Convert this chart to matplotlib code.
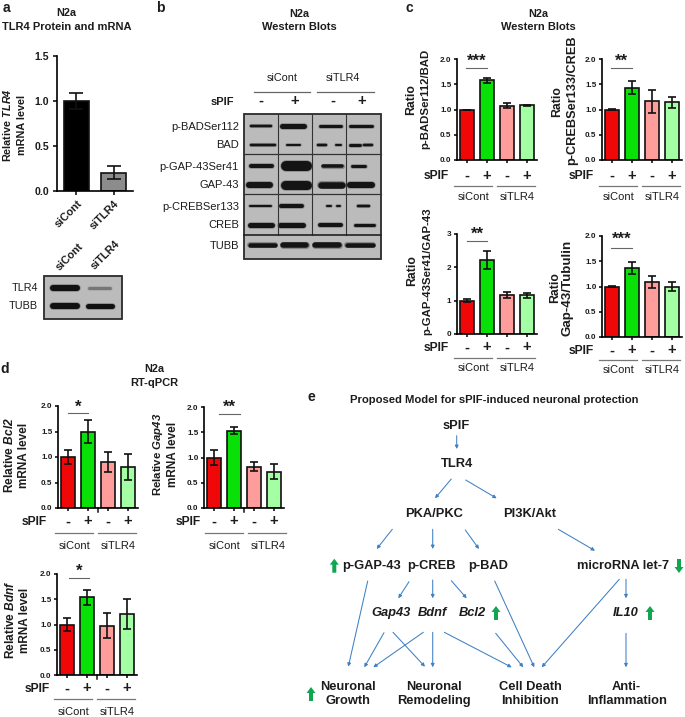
import matplotlib
matplotlib.use("Agg")
import matplotlib.pyplot as plt
from matplotlib.patches import FancyArrow, Rectangle

plt.rcParams["font.family"] = ["Liberation Sans", "DejaVu Sans"]
plt.rcParams["mathtext.fontset"] = "custom"
plt.rcParams["mathtext.bf"] = "Liberation Sans:bold"
plt.rcParams["mathtext.bfit"] = "Liberation Sans:italic:bold"
plt.rcParams["mathtext.it"] = "Liberation Sans:italic"
plt.rcParams["mathtext.rm"] = "Liberation Sans"

W, H = 685, 717
TEXT = "#1c1c1c"
BLUE = "#3f80c4"
GREEN = "#10a550"
BAR_COLORS = ["#f00808", "#08e008", "#ff9c9c", "#a4ffa4"]
SIGNS = ["-", "+", "-", "+"]

# panel a
a_groups = ["siCont", "siTLR4"]
a_means = [1.0, 0.2]
a_errs = [0.09, 0.075]

# panel c
badr_means = [1.0, 1.58, 1.07, 1.08]
badr_errs = [0.0, 0.05, 0.05, 0.01]
crebr_means = [1.0, 1.43, 1.16, 1.14]
crebr_errs = [0.01, 0.13, 0.22, 0.11]
gapr_means = [1.0, 2.23, 1.17, 1.16]
gapr_errs = [0.04, 0.27, 0.10, 0.07]
gaptub_means = [1.0, 1.36, 1.09, 1.0]
gaptub_errs = [0.01, 0.12, 0.11, 0.08]

# panel d
bcl2_means = [1.0, 1.5, 0.9, 0.8]
bcl2_errs = [0.13, 0.23, 0.2, 0.25]
gap43_means = [1.0, 1.53, 0.82, 0.72]
gap43_errs = [0.14, 0.07, 0.09, 0.15]
bdnf_means = [1.0, 1.54, 0.98, 1.21]
bdnf_errs = [0.13, 0.15, 0.25, 0.30]

# western blots, per row: lane bands as (x start, x end, thickness, colour) in pixels
blot_b_labels = ["p-BADSer112", "BAD", "p-GAP-43Ser41", "GAP-43", "p-CREBSer133", "CREB", "TUBB"]
blot_b_rows = [125.5, 144.5, 166, 184.5, 206, 224.5, 245]
blot_b_bands = [
    [(251, 271, 2.5), (282, 304, 5), (320, 341, 3), (350, 372, 3)],
    [(251, 275, 2.5), (287, 300, 2), (318, 326, 2.5), (336, 341, 2), (350, 360, 3), (364, 372, 2.5)],
    [(251, 272, 4), (286, 307, 10), (323, 342, 3.5), (352, 365, 3)],
    [(249, 270, 6), (285, 307, 9), (321, 342, 6.5), (350, 372, 6)],
    [(250, 271, 2), (281, 302, 4), (327, 331, 2), (337, 340, 2), (358, 369, 2.5)],
    [(250, 272, 5), (280, 303, 5), (320, 341, 4), (355, 374, 3)],
    [(250, 275, 4.5), (283, 306, 5.5), (315, 339, 5.5), (347, 373, 4.5)],
]
blot_a_labels = ["TLR4", "TUBB"]
blot_a_rows = [288, 306]
blot_a_bands = [
    [(53, 77, 6, "#111111"), (89, 110, 3, "#777777")],
    [(53, 77, 6, "#111111"), (88, 112, 5, "#111111")],
]

# panel e, arrows between nodes (start x, start y, end x, end y) in pixels
flow_arrows = [
    (456.7, 435.7, 456.7, 449), (451.3, 479, 435, 498.3), (465.7, 480, 496.7, 498.3),
    (392.3, 529.3, 376.7, 549), (432.7, 529.3, 432.7, 549), (465.3, 530, 479, 549),
    (558.3, 529.3, 595, 550.7), (367.7, 581, 348.3, 666.7), (409, 581.7, 398.3, 598.3),
    (432.7, 580, 432.7, 598.3), (451.3, 580.7, 466.7, 598.3), (494.7, 581, 534.3, 667.3),
    (619.3, 579.3, 541.7, 667.3), (626, 579.3, 626, 598.3), (384, 632.7, 364.3, 667.3),
    (393, 632.3, 425, 666.7), (423.3, 632.3, 373.3, 667.3), (432.7, 632.3, 432.7, 667.3),
    (444.3, 632.3, 511.7, 667.3), (495.7, 633.3, 523.3, 667.3), (626, 633.3, 626, 667.3),
]
flow_nodes = [
    ("sPIF", 456.3, 426, "normal"), ("TLR4", 456.7, 464.3, "normal"),
    ("PKA/PKC", 434.3, 514.3, "normal"), ("PI3K/Akt", 529.7, 514.3, "normal"),
    ("p-GAP-43", 371.7, 565.7, "normal"), ("p-CREB", 431, 565.7, "normal"),
    ("p-BAD", 488.3, 565.7, "normal"), ("microRNA let-7", 623, 565.7, "normal"),
    ("Gap43", 391, 613.3, "italic"), ("Bdnf", 432.3, 613.3, "italic"),
    ("Bcl2", 472.7, 613.3, "italic"), ("IL10", 625.7, 613.3, "italic"),
    ("Neuronal\nGrowth", 348.3, 694, "normal"), ("Neuronal\nRemodeling", 434, 694, "normal"),
    ("Cell Death\nInhibition", 530, 694, "normal"), ("Anti-\nInflammation", 626.7, 694, "normal"),
]
up_arrows = [(334.3, 565.7), (496, 613), (650, 613), (311, 694)]
down_arrows = [(679, 566)]

fig = plt.figure(figsize=(W / 100, H / 100), dpi=100)
ov = fig.add_axes([0, 0, 1, 1], zorder=5)
ov.set_xlim(0, W)
ov.set_ylim(H, 0)
ov.axis("off")
ov.patch.set_alpha(0)


def label(x, y, s, size=7.6, weight="bold", **kw):
    kw.setdefault("ha", "center")
    kw.setdefault("va", "center")
    kw.setdefault("color", TEXT)
    ov.text(x, y, s, fontsize=size, fontweight=weight, **kw)


def make_axes(left, right, top, bottom):
    ax = fig.add_axes([left / W, 1 - bottom / H, (right - left) / W, (bottom - top) / H])
    for side in ["top", "right"]:
        ax.spines[side].set_visible(False)
    for side in ["left", "bottom"]:
        ax.spines[side].set_linewidth(1.2)
    ax.patch.set_alpha(0)
    return ax


def bar_panel(left, top, bottom, means, errs, ymax, yticks, fmt, sig_x, sig_y, stars, star_y,
              sig_px=0, rows=(14, 24, 35), spif_dx=-21, minor=False):
    ax = make_axes(left, left + 80, top, bottom)
    xs = range(len(means))
    ax.bar(xs, means, width=0.68, color=BAR_COLORS, edgecolor="#111111", linewidth=1.2)
    ax.errorbar(xs, means, yerr=errs, fmt="none", ecolor="#111111", elinewidth=1.2, capsize=3, capthick=1.2)
    ax.set_xlim(-0.5, 3.5)
    ax.set_ylim(0, ymax)
    ax.set_yticks(yticks)
    ax.set_yticklabels([fmt % v for v in yticks], fontsize=5.9, fontweight="bold", color=TEXT)
    ax.set_xticks(list(xs))
    ax.set_xticklabels(SIGNS, fontsize=10.5, fontweight="bold", color=TEXT)
    ax.tick_params(axis="both", length=2.5, width=1.1, pad=1.5)
    ax.tick_params(axis="x", pad=rows[0] - 12)
    ax.plot(sig_x, [sig_y, sig_y], color="#666666", lw=0.8, clip_on=False)
    ax.text(sum(sig_x) / 2, star_y, stars, ha="center", va="center", fontsize=12, fontweight="bold",
            color=TEXT, clip_on=False)
    if minor:
        ax.plot([1.5, 1.5], [0, -ymax * 0.04], color="#111111", lw=1.1, clip_on=False)
    y0 = bottom
    label(left + spif_dx, y0 + rows[0], "sPIF", size=8.7)
    ov.plot([left - 3 + sig_px, left + 35 + sig_px], [y0 + rows[1]] * 2, color="#777777", lw=0.9)
    ov.plot([left + 40 + sig_px, left + 78 + sig_px], [y0 + rows[1]] * 2, color="#777777", lw=0.9)
    label(left + 17 + sig_px, y0 + rows[2], "siCont", weight="normal", size=8)
    label(left + 60 + sig_px, y0 + rows[2], "siTLR4", weight="normal", size=8)
    return ax


def draw_blot(x0, x1, y0, y1, rows, bands):
    ov.add_patch(Rectangle((x0, y0), x1 - x0, y1 - y0, facecolor="#bbbbbb", edgecolor="#2a2a2a", lw=1.3))
    for y, row in zip(rows, bands):
        for band in row:
            color = band[3] if len(band) > 3 else "#141414"
            # soft halo so the bands do not look cut out
            ov.plot([band[0], band[1]], [y, y], color=color, lw=(band[2] + 1.6) * 0.72, alpha=0.3,
                    solid_capstyle="round")
            ov.plot([band[0], band[1]], [y, y], color=color, lw=band[2] * 0.72, solid_capstyle="round")


# panel a
ax = make_axes(57, 133, 56, 190.7)
ax.bar([0, 1], a_means, width=0.68, color=["#000000", "#8c8c8c"], edgecolor="#111111", linewidth=1.2)
ax.errorbar([0, 1], a_means, yerr=a_errs, fmt="none", ecolor="#111111", elinewidth=1.2, capsize=4.7, capthick=1.2)
ax.set_xlim(-0.527, 1.527)
ax.set_ylim(0, 1.5)
ax.set_yticks([0, 0.5, 1.0, 1.5])
ax.set_yticklabels(["0.0", "0.5", "1.0", "1.5"], fontsize=7.6, fontweight="bold", color=TEXT)
ax.set_xticks([0, 1])
ax.set_xticklabels(a_groups, rotation=45, ha="right", rotation_mode="anchor", fontsize=7.8, fontweight="bold", color=TEXT)
ax.tick_params(axis="both", length=3, width=1.1, pad=2.5)

label(3, 8, "a", size=10, ha="left")
label(66, 13, "N2a", size=7.8)
label(2, 27, "TLR4 Protein and mRNA", size=8, ha="left")
label(7, 125, r"Relative $\mathbfit{TLR4}$", size=7.8, rotation=90)
label(22, 125, "mRNA level", size=7.8, rotation=90)

label(70, 257, "siCont", size=7.8, rotation=45, ha="center")
label(105, 255, "siTLR4", size=7.8, rotation=45, ha="center")
draw_blot(44, 122, 276, 319, blot_a_rows, blot_a_bands)
for name, y in zip(blot_a_labels, blot_a_rows):
    label(38, y, name, size=7.8, weight="normal", ha="right")

# panel b
label(160, 8, "b", size=10)
label(299, 14, "N2a", size=7.8)
label(299, 27, "Western Blots", size=8)
label(282, 78, "siCont", size=7.8, weight="normal")
label(343, 78, "siTLR4", size=7.8, weight="normal")
ov.plot([254, 310], [92, 92], color="#666666", lw=0.9)
ov.plot([317, 374], [92, 92], color="#666666", lw=0.9)
label(222, 102, "sPIF", size=8)
for x, s in zip([261, 295, 333, 362], SIGNS):
    label(x, 101, s, size=10.5)
draw_blot(244, 381, 114, 259, blot_b_rows, blot_b_bands)
for x in [278, 312, 346]:
    ov.plot([x, x], [114, 235], color="#333333", lw=0.8)
for y in [154, 194]:
    ov.plot([244, 381], [y, y], color="#333333", lw=0.9)
ov.plot([244, 381], [235, 235], color="#222222", lw=1.2)
for name, y in zip(blot_b_labels, blot_b_rows):
    label(239, y + 1, name, size=8, weight="normal", ha="right")

# panel c
label(409, 8, "c", size=10)
label(538, 14, "N2a", size=7.8)
label(538, 27, "Western Blots", size=8)
tick2 = [0, 0.5, 1.0, 1.5, 2.0]
bar_panel(457, 59, 160, badr_means, badr_errs, 2.0, tick2, "%.1f", [-0.05, 1], 1.82, "***", 1.96, rows=(16, 26, 37))
bar_panel(602, 59, 160, crebr_means, crebr_errs, 2.0, tick2, "%.1f", [-0.05, 1], 1.83, "**", 1.96, rows=(16, 26, 37))
bar_panel(457, 234, 334, gapr_means, gapr_errs, 3, [0, 1, 2, 3], "%d", [0, 1], 2.8, "**", 2.98, rows=(14, 24, 34))
bar_panel(602, 236, 337, gaptub_means, gaptub_errs, 2.0, tick2, "%.1f", [-0.05, 1], 1.77, "***", 1.93, rows=(14, 23, 33))
label(411, 100, "Ratio", size=8.8, rotation=90)
label(425, 99, "p-BADSer112/BAD", size=8.2, rotation=90)
label(557, 102, "Ratio", size=8.8, rotation=90)
label(572, 100, "p-CREBSer133/CREB", size=9.2, rotation=90)
label(412, 271, "Ratio", size=8.8, rotation=90)
label(427, 271, "p-GAP-43Ser41/GAP-43", size=8.2, rotation=90)
label(555, 288, "Ratio", size=8.8, rotation=90)
label(568, 288, "Gap-43/Tubulin", size=9.6, rotation=90)

# panel d
label(5, 369, "d", size=10)
label(154, 369, "N2a", size=7.8)
label(154, 383, "RT-qPCR", size=8)
bar_panel(58, 406, 508, bcl2_means, bcl2_errs, 2.0, tick2, "%.1f", [0, 1], 1.86, "*", 1.98,
          rows=(14, 25, 38), spif_dx=-24, minor=True)
bar_panel(204, 407, 508, gap43_means, gap43_errs, 2.0, tick2, "%.1f", [0.25, 1.3], 1.86, "**", 2.0,
          rows=(14, 25, 38), spif_dx=-16, minor=True, sig_px=4)
bar_panel(57, 574, 675, bdnf_means, bdnf_errs, 2.0, tick2, "%.1f", [0.1, 1.1], 1.92, "*", 2.06,
          rows=(14, 24, 37), spif_dx=-20, minor=True)
label(10, 455, r"Relative $\mathbfit{Bcl2}$", size=8.6, rotation=90)
label(24, 455, "mRNA level", size=8.5, rotation=90)
label(158, 454, r"Relative $\mathbfit{Gap43}$", size=8.2, rotation=90)
label(173, 454, "mRNA level", size=8.5, rotation=90)
label(11, 620, r"Relative $\mathbfit{Bdnf}$", size=8.6, rotation=90)
label(25, 620, "mRNA level", size=8.5, rotation=90)

# panel e
label(311, 397, "e", size=10)
label(493.8, 399.7, "Proposed Model for sPIF-induced neuronal protection", size=8.15)
for name, x, y, style in flow_nodes:
    label(x, y, name, size=9.3, style=style, linespacing=1.25)
for x0, y0, x1, y1 in flow_arrows:
    ov.annotate("", xy=(x1, y1), xytext=(x0, y0),
                arrowprops=dict(arrowstyle="-|>,head_length=0.2,head_width=0.1", color=BLUE, lw=0.75,
                                shrinkA=0, shrinkB=0))
for x, y in up_arrows:
    ov.add_patch(FancyArrow(x, y + 7, 0, -14, width=4, head_width=9, head_length=6,
                            length_includes_head=True, color=GREEN, lw=0))
for x, y in down_arrows:
    ov.add_patch(FancyArrow(x, y - 7, 0, 14, width=4, head_width=9, head_length=6,
                            length_includes_head=True, color=GREEN, lw=0))

fig.savefig("out.png", dpi=100)
